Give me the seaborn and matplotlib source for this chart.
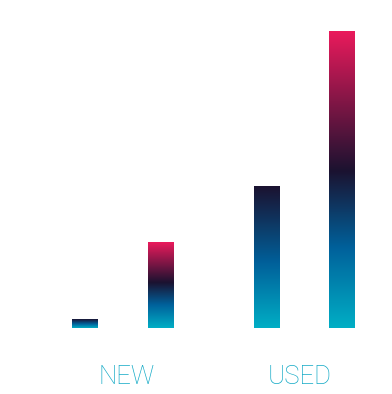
import numpy as np
import pandas as pd
import matplotlib
matplotlib.use("Agg")
import matplotlib.pyplot as plt
import seaborn as sns
from matplotlib.colors import LinearSegmentedColormap
from matplotlib import font_manager

conditions = ["NEW", "NEW", "USED", "USED"]
series = ["A", "B", "A", "B"]
values = [9, 86, 142, 297]
tick_labels = ["NEW", "USED"]

df = pd.DataFrame({"condition": conditions, "series": series, "value": values})

sns.set_theme(style="white")
fig = plt.figure(figsize=(3.92, 3.94), dpi=100)
ax = fig.add_axes([0, 66 / 394, 1, 328 / 394])

sns.barplot(data=df, x="condition", y="value", hue="series", order=tick_labels,
            hue_order=["A", "B"], width=0.835, gap=0.67, legend=False, ax=ax,
            errorbar=None)

cmaps = {
    "A": LinearSegmentedColormap.from_list(
        "dark", [(0.0, "#00aec5"), (0.46, "#00609a"), (1.0, "#1b1230")]),
    "B": LinearSegmentedColormap.from_list(
        "pink", [(0.0, "#00aec5"), (0.27, "#00619b"), (0.53, "#1b1230"),
                 (1.0, "#ea1a5c")]),
}

grad = np.linspace(0, 1, 256).reshape(-1, 1)
hues = ["A", "A", "B", "B"]  # seaborn draws patches hue by hue
for patch, h in zip(ax.patches, hues):
    x0, y0 = patch.get_x(), patch.get_y()
    w, hgt = patch.get_width(), patch.get_height()
    patch.set_visible(False)
    ax.imshow(grad, extent=[x0, x0 + w, y0, y0 + hgt], origin="lower",
              cmap=cmaps[h], aspect="auto", interpolation="bicubic", zorder=2)

ax.set_xlim(-0.675, 1.485)
ax.set_ylim(0, 328)
ax.set_xlabel("")
ax.set_ylabel("")
ax.set_yticks([])
ax.set_xticks([0.02, 0.975])
ax.set_xticklabels(tick_labels, fontsize=18.5, color="#14aac6",
                   fontfamily="Roboto", fontweight="light")
ax.tick_params(axis="x", length=0, pad=27)
for s in ax.spines.values():
    s.set_visible(False)

fig.savefig("out.png", dpi=100)
